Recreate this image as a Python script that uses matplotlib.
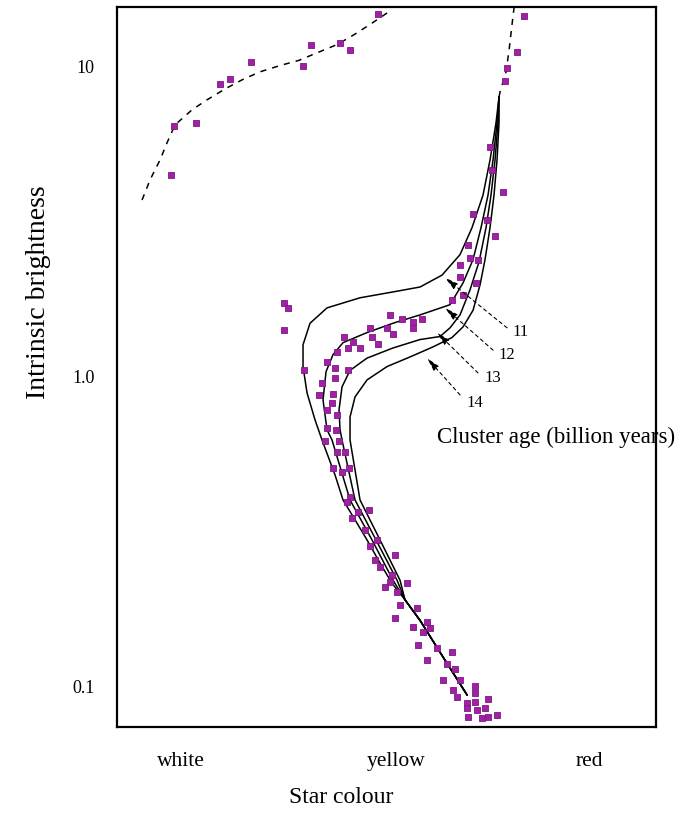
import matplotlib
matplotlib.use("Agg")
import matplotlib.pyplot as plt
import numpy as np

plt.rcParams['font.family'] = ['Liberation Serif', 'DejaVu Serif']

# star colour index (arbitrary units, white -> red) and intrinsic brightness
star_x = [0.54, 0.57, 0.79, 1.03, 1.13, 1.34, 1.86, 1.94, 2.23, 2.33, 2.61,
          4.07, 4.00, 3.90, 3.88,
          3.73, 3.75, 3.86, 3.56, 3.70, 3.78, 3.51, 3.61, 3.53, 3.43, 3.43, 3.59, 3.46, 3.35,
          1.67, 1.71, 1.67,
          2.73, 2.85, 2.96, 3.05, 2.96, 2.53, 2.55, 2.76, 2.70,
          2.27, 2.36, 2.43, 2.61, 2.31, 2.20, 2.10, 2.18, 2.31, 1.87, 2.18, 2.05,
          2.02, 2.16, 2.15, 2.10, 2.20, 2.10, 2.19,
          2.08, 2.22, 2.20, 2.28, 2.16, 2.25, 2.32, 2.33, 2.30, 2.52, 2.41, 2.35,
          2.48, 2.60, 2.53, 2.78, 2.58, 2.63, 2.75, 2.90, 2.68, 2.80, 2.73, 3.00,
          2.83, 2.78, 2.96, 3.10, 3.13, 3.06, 3.01, 3.20, 3.10, 3.35, 3.30, 3.38,
          3.26, 3.43, 3.36, 3.58, 3.58, 3.40, 3.50, 3.71, 3.58, 3.50, 3.68, 3.60,
          3.80, 3.51, 3.65, 3.71]
star_b = [4.49, 6.45, 6.60, 8.81, 9.15, 10.4, 10.1, 11.8, 11.9, 11.3, 14.8,
          14.6, 11.2, 9.93, 9.01,
          5.52, 4.65, 3.95, 3.36, 3.21, 2.85, 2.67, 2.39, 2.42, 2.30, 2.10, 2.01, 1.84, 1.77,
          1.73, 1.67, 1.42,
          1.585, 1.54, 1.50, 1.54, 1.44, 1.44, 1.35, 1.38, 1.44,
          1.35, 1.30, 1.24, 1.28, 1.24, 1.20, 1.12, 1.07, 1.05, 1.05, 0.993, 0.956,
          0.875, 0.882, 0.824, 0.783, 0.754, 0.684, 0.675,
          0.622, 0.622, 0.573, 0.573, 0.509, 0.494, 0.509, 0.410, 0.395, 0.372, 0.367, 0.351,
          0.321, 0.298, 0.285, 0.267, 0.257, 0.244, 0.230, 0.216, 0.210, 0.202, 0.218, 0.180,
          0.184, 0.167, 0.156, 0.162, 0.155, 0.150, 0.137, 0.134, 0.122, 0.130, 0.119, 0.114,
          0.105, 0.105, 0.0978, 0.101, 0.0957, 0.0929, 0.0888, 0.0914, 0.0895, 0.0856, 0.0856, 0.0843,
          0.0813, 0.0800, 0.0794, 0.0800]

# isochrones (cluster age in billion years)
ages = ['11', '12', '13', '14']
iso_x = [
    [3.82, 3.79, 3.73, 3.66, 3.55, 3.43, 3.25, 3.03, 2.76, 2.43, 2.10, 1.93, 1.86, 1.86,
     1.90, 1.98, 2.05, 2.18, 2.26, 2.38, 2.50, 2.63, 2.75, 2.88, 3.03, 3.28, 3.50],
    [3.82, 3.80, 3.76, 3.71, 3.64, 3.56, 3.46, 3.33, 3.03, 2.76, 2.50, 2.26, 2.16, 2.09,
     2.06, 2.10, 2.15, 2.33, 2.55, 2.76, 2.88, 3.03, 3.28, 3.50],
    [3.82, 3.81, 3.78, 3.74, 3.69, 3.62, 3.53, 3.43, 3.33, 3.23, 3.03, 2.76, 2.50, 2.33,
     2.25, 2.22, 2.23, 2.25, 2.38, 2.59, 2.80, 2.88, 3.03, 3.28, 3.50],
    [3.82, 3.82, 3.80, 3.77, 3.73, 3.68, 3.63, 3.56, 3.46, 3.35, 3.16, 2.93, 2.70, 2.50,
     2.38, 2.33, 2.33, 2.43, 2.63, 2.83, 2.88, 3.03, 3.28, 3.50],
]
iso_b = [
    [8.00, 6.60, 5.01, 3.86, 3.03, 2.48, 2.13, 1.95, 1.88, 1.80, 1.67, 1.49, 1.27, 1.08,
     0.888, 0.727, 0.626, 0.483, 0.401, 0.346, 0.298, 0.251, 0.216, 0.191, 0.164, 0.122, 0.0943],
    [8.00, 6.60, 5.01, 3.86, 3.03, 2.39, 2.01, 1.71, 1.585, 1.49, 1.39, 1.29, 1.18, 1.04,
     0.843, 0.675, 0.626, 0.401, 0.298, 0.221, 0.191, 0.164, 0.122, 0.0943],
    [8.00, 6.60, 5.01, 3.86, 3.03, 2.35, 1.91, 1.585, 1.44, 1.35, 1.32, 1.24, 1.15, 1.05,
     0.929, 0.783, 0.675, 0.626, 0.401, 0.298, 0.221, 0.191, 0.164, 0.122, 0.0943],
    [8.00, 6.60, 5.01, 3.86, 3.03, 2.39, 1.98, 1.64, 1.45, 1.34, 1.25, 1.16, 1.08, 0.978,
     0.862, 0.743, 0.626, 0.401, 0.298, 0.221, 0.191, 0.164, 0.122, 0.0943],
]

# dashed model branches
hb_x = [0.25, 0.33, 0.43, 0.50, 0.58, 0.75, 0.90, 1.08, 1.25, 1.43, 1.63, 1.82, 2.00, 2.20, 2.37, 2.53, 2.75]
hb_b = [3.72, 4.32, 5.01, 5.69, 6.50, 7.27, 7.83, 8.49, 9.08, 9.64, 10.1, 10.5, 11.1, 11.8, 12.7, 13.7, 15.3]
rgb_x = [3.82, 3.83, 3.89, 3.92, 3.95, 3.97]
rgb_b = [8.00, 8.30, 9.64, 11.3, 13.7, 15.5]

col_ticks = [0.64, 2.79, 4.72]
col_labels = ['white', 'yellow', 'red']
b_ticks = [0.1, 1.0, 10]
b_labels = ['0.1', '1.0', '10']

fig = plt.figure(figsize=(6.86, 8.14), dpi=100)
ax = fig.add_axes([0.1706, 0.1069, 0.7857, 0.8845])
ax.set_yscale('log')

for xs, bs in zip(iso_x, iso_b):
    ax.plot(xs, bs, color='black', lw=1.1, zorder=2)
ax.plot(hb_x, hb_b, color='black', lw=1.1, ls=(0, (4, 4)), zorder=2)
ax.plot(rgb_x, rgb_b, color='black', lw=1.1, ls=(0, (4, 4)), zorder=2)

ax.scatter(star_x, star_b, marker='s', s=22, color='#a31fa5', edgecolors='#7a1a80',
           linewidths=0.6, zorder=3)

# age labels with arrows
lab_pos = [(3.95, 1.40), (3.81, 1.18), (3.67, 0.993), (3.49, 0.824)]
arr_from = [(3.90, 1.44), (3.76, 1.22), (3.61, 1.03), (3.43, 0.875)]
arr_to = [(3.28, 2.09), (3.28, 1.67), (3.20, 1.39), (3.10, 1.15)]
for a, p, s, t in zip(ages, lab_pos, arr_from, arr_to):
    ax.text(p[0], p[1], a, fontsize=12, ha='left', va='center')
    ax.annotate('', xy=t, xytext=s,
                arrowprops=dict(arrowstyle='-|>,head_length=0.8,head_width=0.2',
                                color='black', lw=0.8, ls=(0, (3, 3)),
                                shrinkA=0, shrinkB=0))
ax.text(3.20, 0.640, 'Cluster age (billion years)', fontsize=16.5, ha='left', va='center',
        clip_on=False)

ax.set_xlim(0, 5.39)
ax.set_ylim(0.0743, 15.6)
ax.set_xticks(col_ticks)
ax.set_xticklabels(col_labels, fontsize=15.5)
ax.set_yticks(b_ticks)
ax.set_yticklabels(b_labels, fontsize=13)
ax.minorticks_off()
ax.tick_params(axis='both', length=0)
ax.tick_params(axis='x', pad=18)
ax.tick_params(axis='y', pad=16)
for sp in ax.spines.values():
    sp.set_linewidth(1.6)

ax.set_xlabel('Star colour', fontsize=17)
ax.xaxis.set_label_coords(0.416, -0.083)
ax.set_ylabel('Intrinsic brightness', fontsize=20)
ax.yaxis.set_label_coords(-0.122, 0.604)

fig.savefig('out.png', dpi=100)
